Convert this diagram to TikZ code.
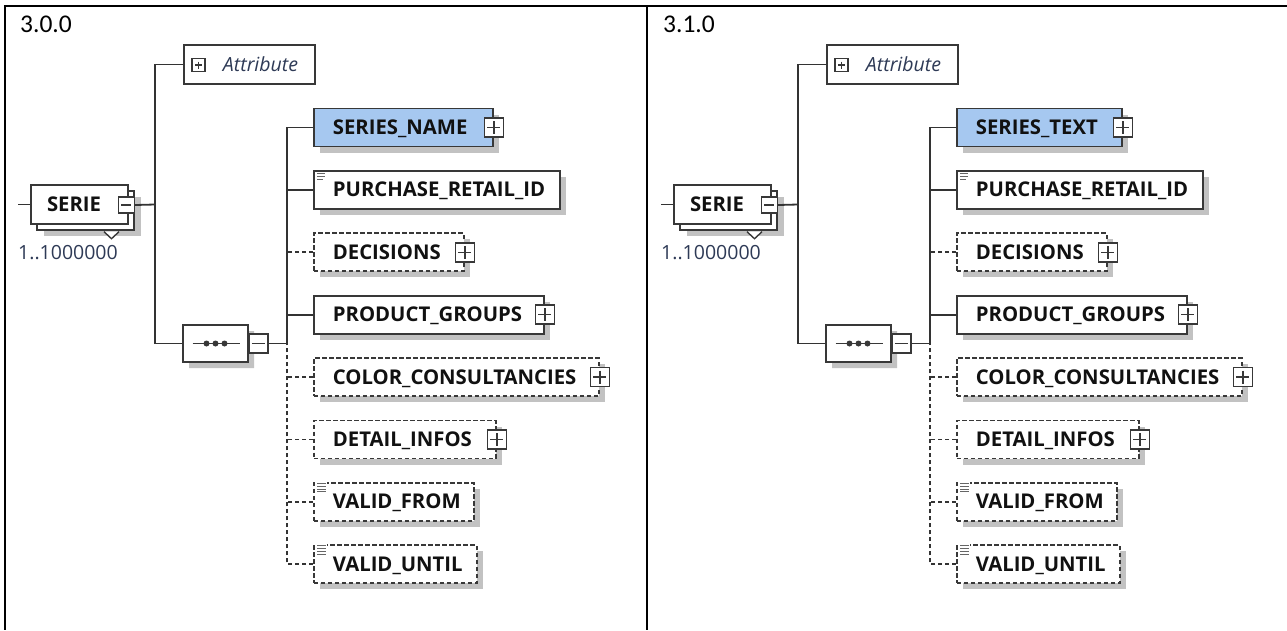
\documentclass[tikz,border=0pt]{standalone}
\usepackage{fontspec}
\setmainfont{Open Sans}
\newfontfamily\wordfont{Carlito}
\usetikzlibrary{shapes.misc,shadows,calc}
\definecolor{ln}{HTML}{333333}
\definecolor{bx}{HTML}{383838}
\definecolor{hdr}{HTML}{A6C8F0}
\definecolor{shd}{HTML}{C2C2C2}
\definecolor{occ}{HTML}{2E3A56}
\definecolor{tx}{HTML}{111111}
\newcommand\elemfont{\fontsize{20.3pt}{23pt}\selectfont\bfseries}
\tikzset{
  frame/.style={draw=black, line width=2.4pt},
  conn/.style={draw=ln, line width=1.8pt},
  optconn/.style={conn, dash pattern=on 4.5pt off 2.5pt},
  shadowed/.style={drop shadow={shadow xshift=6pt, shadow yshift=-6pt, fill=shd, draw=none, opacity=1}},
  elembox/.style={rectangle, draw=bx, fill=white, line width=1.8pt, minimum height=38pt,
    inner xsep=19pt, inner ysep=0pt, align=left, anchor=west, text height=14pt, text depth=0pt,
    font=\elemfont, text=tx, shadowed},
  optbox/.style={elembox, dash pattern=on 4.5pt off 2.5pt},
  ew/.style 2 args={minimum width=#1pt, text width=#2pt},
  plusbox/.style={rectangle, draw=bx, fill=white, line width=1.6pt, minimum size=19pt, inner sep=0pt,
    path picture={\draw[bx, line width=1.5pt]
      ($(path picture bounding box.north)+(0,3)$) -- ($(path picture bounding box.south)+(0,-3)$)
      ($(path picture bounding box.west)+(3,0)$) -- ($(path picture bounding box.east)+(-3,0)$);}},
  minusbox/.style={rectangle, draw=bx, fill=white, line width=1.6pt, minimum size=19pt, inner sep=0pt,
    path picture={\draw[bx, line width=1.5pt]
      ($(path picture bounding box.west)+(3,0)$) -- ($(path picture bounding box.east)+(-3,0)$);}},
  seqnode/.style={chamfered rectangle, chamfered rectangle xsep=9pt, draw=bx, fill=white,
    line width=1.8pt, minimum width=65pt, minimum height=37pt, inner sep=0pt, shadowed,
    path picture={\draw[bx, line width=1.5pt]
      ($(path picture bounding box.center)+(-23,0)$) -- ($(path picture bounding box.center)+(24,0)$);
      \fill[bx] ($(path picture bounding box.center)+(-9,0)$) circle (3pt)
                ($(path picture bounding box.center)+(0,0)$) circle (3pt)
                ($(path picture bounding box.center)+(9,0)$) circle (3pt);}},
  attrbox/.style={rectangle, draw=bx, fill=white, line width=1.8pt, minimum width=131pt,
    minimum height=39pt, inner xsep=17pt, inner ysep=0pt, text width=97pt, align=right,
    text height=14pt, text depth=0pt, font=\fontsize{19.5pt}{22pt}\selectfont\itshape, text=occ},
  seriebox/.style={rectangle, draw=bx, fill=white, line width=1.8pt, minimum width=97pt,
    minimum height=39pt, inner xsep=16pt, inner ysep=0pt, text width=65pt, align=left,
    text height=14pt, text depth=0pt, font=\elemfont, text=tx,
    drop shadow={shadow xshift=13pt, shadow yshift=-12pt, fill=shd, draw=none, opacity=1},
    copy shadow={shadow xshift=6pt, shadow yshift=-6pt, draw=bx, fill=white, line width=1.8pt}},
  icon/.style={draw=gray!80!black, line width=0.9pt},
  vers/.style={anchor=base west, inner sep=0pt, font=\wordfont\fontsize{25.5pt}{30pt}\selectfont, text=black},
  occl/.style={anchor=base west, inner sep=0pt, font=\fontsize{19.5pt}{22pt}\selectfont, text=occ}
}
% #1 shift, #2 prefix, #3 version, #4 first element, #5 its width, #6 its text width
\newcommand\xsdpanel[6]{%
\begin{scope}[xshift=#1pt]
  \node[vers] (#2ver) at (20,32) {#3};
  % root element
  \node[seriebox] (#2se) at (79.5,204.5) {SERIE};
  \filldraw[bx, fill=white, line width=1.4pt] ($(#2se.south)+(24.5,6.8)$) -- ++(7.5,7) -- ++(7.5,-7);
  \node[minusbox, minimum size=16pt] (#2sem) at ($(#2se.east)+(-2.5,0.5)$) {};
  \node[occl] (#2oc) at (18,259) {1..1000000};
  \coordinate (#2in) at (18,204.5);
  % attribute
  \node[attrbox] (#2at) at (249.5,64.5) {Attribute};
  \node[plusbox, minimum size=13pt] (#2atp) at (198.5,65) {};
  % sequence
  \node[seqnode] (#2sq) at (215.5,343.5) {};
  \node[minusbox] (#2sqm) at ($(#2sq.east)+(9.5,0)$) {};
  \coordinate (#2jB) at (155,204.5);
  \coordinate (#2jC) at (155,343.5);
  \coordinate (#2jS) at (287,343.5);
  % children
  \node[elembox, ew={#5}{#6}, fill=hdr] (#2c1) at (313,127.5) {#4};
  \node[plusbox] (#2c1p) at (#2c1.east) {};
  \node[elembox, ew={246}{208}] (#2c2) at (313,189.9) {PURCHASE\_RETAIL\_ID};
  \node[optbox, ew={150}{112}] (#2c3) at (313,252.3) {DECISIONS};
  \node[plusbox] (#2c3p) at (#2c3.east) {};
  \node[elembox, ew={230}{192}] (#2c4) at (313,314.7) {PRODUCT\_GROUPS};
  \node[plusbox] (#2c4p) at (#2c4.east) {};
  \node[optbox, ew={285}{247}] (#2c5) at (313,377.1) {COLOR\_CONSULTANCIES};
  \node[plusbox] (#2c5p) at (#2c5.east) {};
  \node[optbox, ew={182}{144}] (#2c6) at (313,439.5) {DETAIL\_INFOS};
  \node[plusbox] (#2c6p) at (#2c6.east) {};
  \node[optbox, ew={160}{122}] (#2c7) at (313,501.9) {VALID\_FROM};
  \node[optbox, ew={163}{125}] (#2c8) at (313,564.3) {VALID\_UNTIL};
  % simple-type icons
  \draw[icon] ($(#2c2.north west)+(4,3.5)$) -- ++(8,0) ++(-8,2.8) -- ++(8,0) ++(-8,2.8) -- ++(6,0);
  \foreach \k in {c7,c8}{
    \fill[white] ($(#2\k.north west)+(3,-1)$) rectangle ++(11,12);
    \draw[icon] ($(#2\k.north west)+(4,1.5)$) -- ++(9,0) ++(-9,2.8) -- ++(9,0) ++(-9,2.8) -- ++(9,0) ++(-9,2.8) -- ++(9,0);
  }
  % connectors
  \draw[conn] (#2in) -- (#2se.west);
  \draw[conn] (#2sem.east) -- (#2jB);
  \draw[conn] (#2at.west) -| (#2jC) -- (#2sq.west);
  \draw[conn] (#2sqm.east) -- (#2jS);
  \draw[conn] (#2c1.west) -| (#2jS);
  \draw[conn] (#2c2.west) -- (#2c2.west -| #2jS);
  \draw[optconn] (#2c3.west) -- (#2c3.west -| #2jS);
  \draw[conn] (#2c4.west) -- (#2c4.west -| #2jS);
  \draw[optconn] (#2c5.west) -- (#2c5.west -| #2jS);
  \draw[optconn] (#2c6.west) -- (#2c6.west -| #2jS);
  \draw[optconn] (#2c7.west) -- (#2c7.west -| #2jS);
  \draw[optconn] (#2c8.west) -| (#2jS);
\end{scope}}
\begin{document}
\begin{tikzpicture}[x=1pt,y=-1pt]
\useasboundingbox (0,0) rectangle (1287,630);
\fill[white] (0,0) rectangle (1287,630);
\draw[frame] (3.8,6) -- (1287,6);
\draw[frame] (5,6) -- (5,630);
\draw[frame] (647,6) -- (647,630);
\xsdpanel{0}{L}{3.0.0}{SERIES\_NAME}{179}{141}
\xsdpanel{643}{R}{3.1.0}{SERIES\_TEXT}{165}{127}
\end{tikzpicture}
\end{document}
